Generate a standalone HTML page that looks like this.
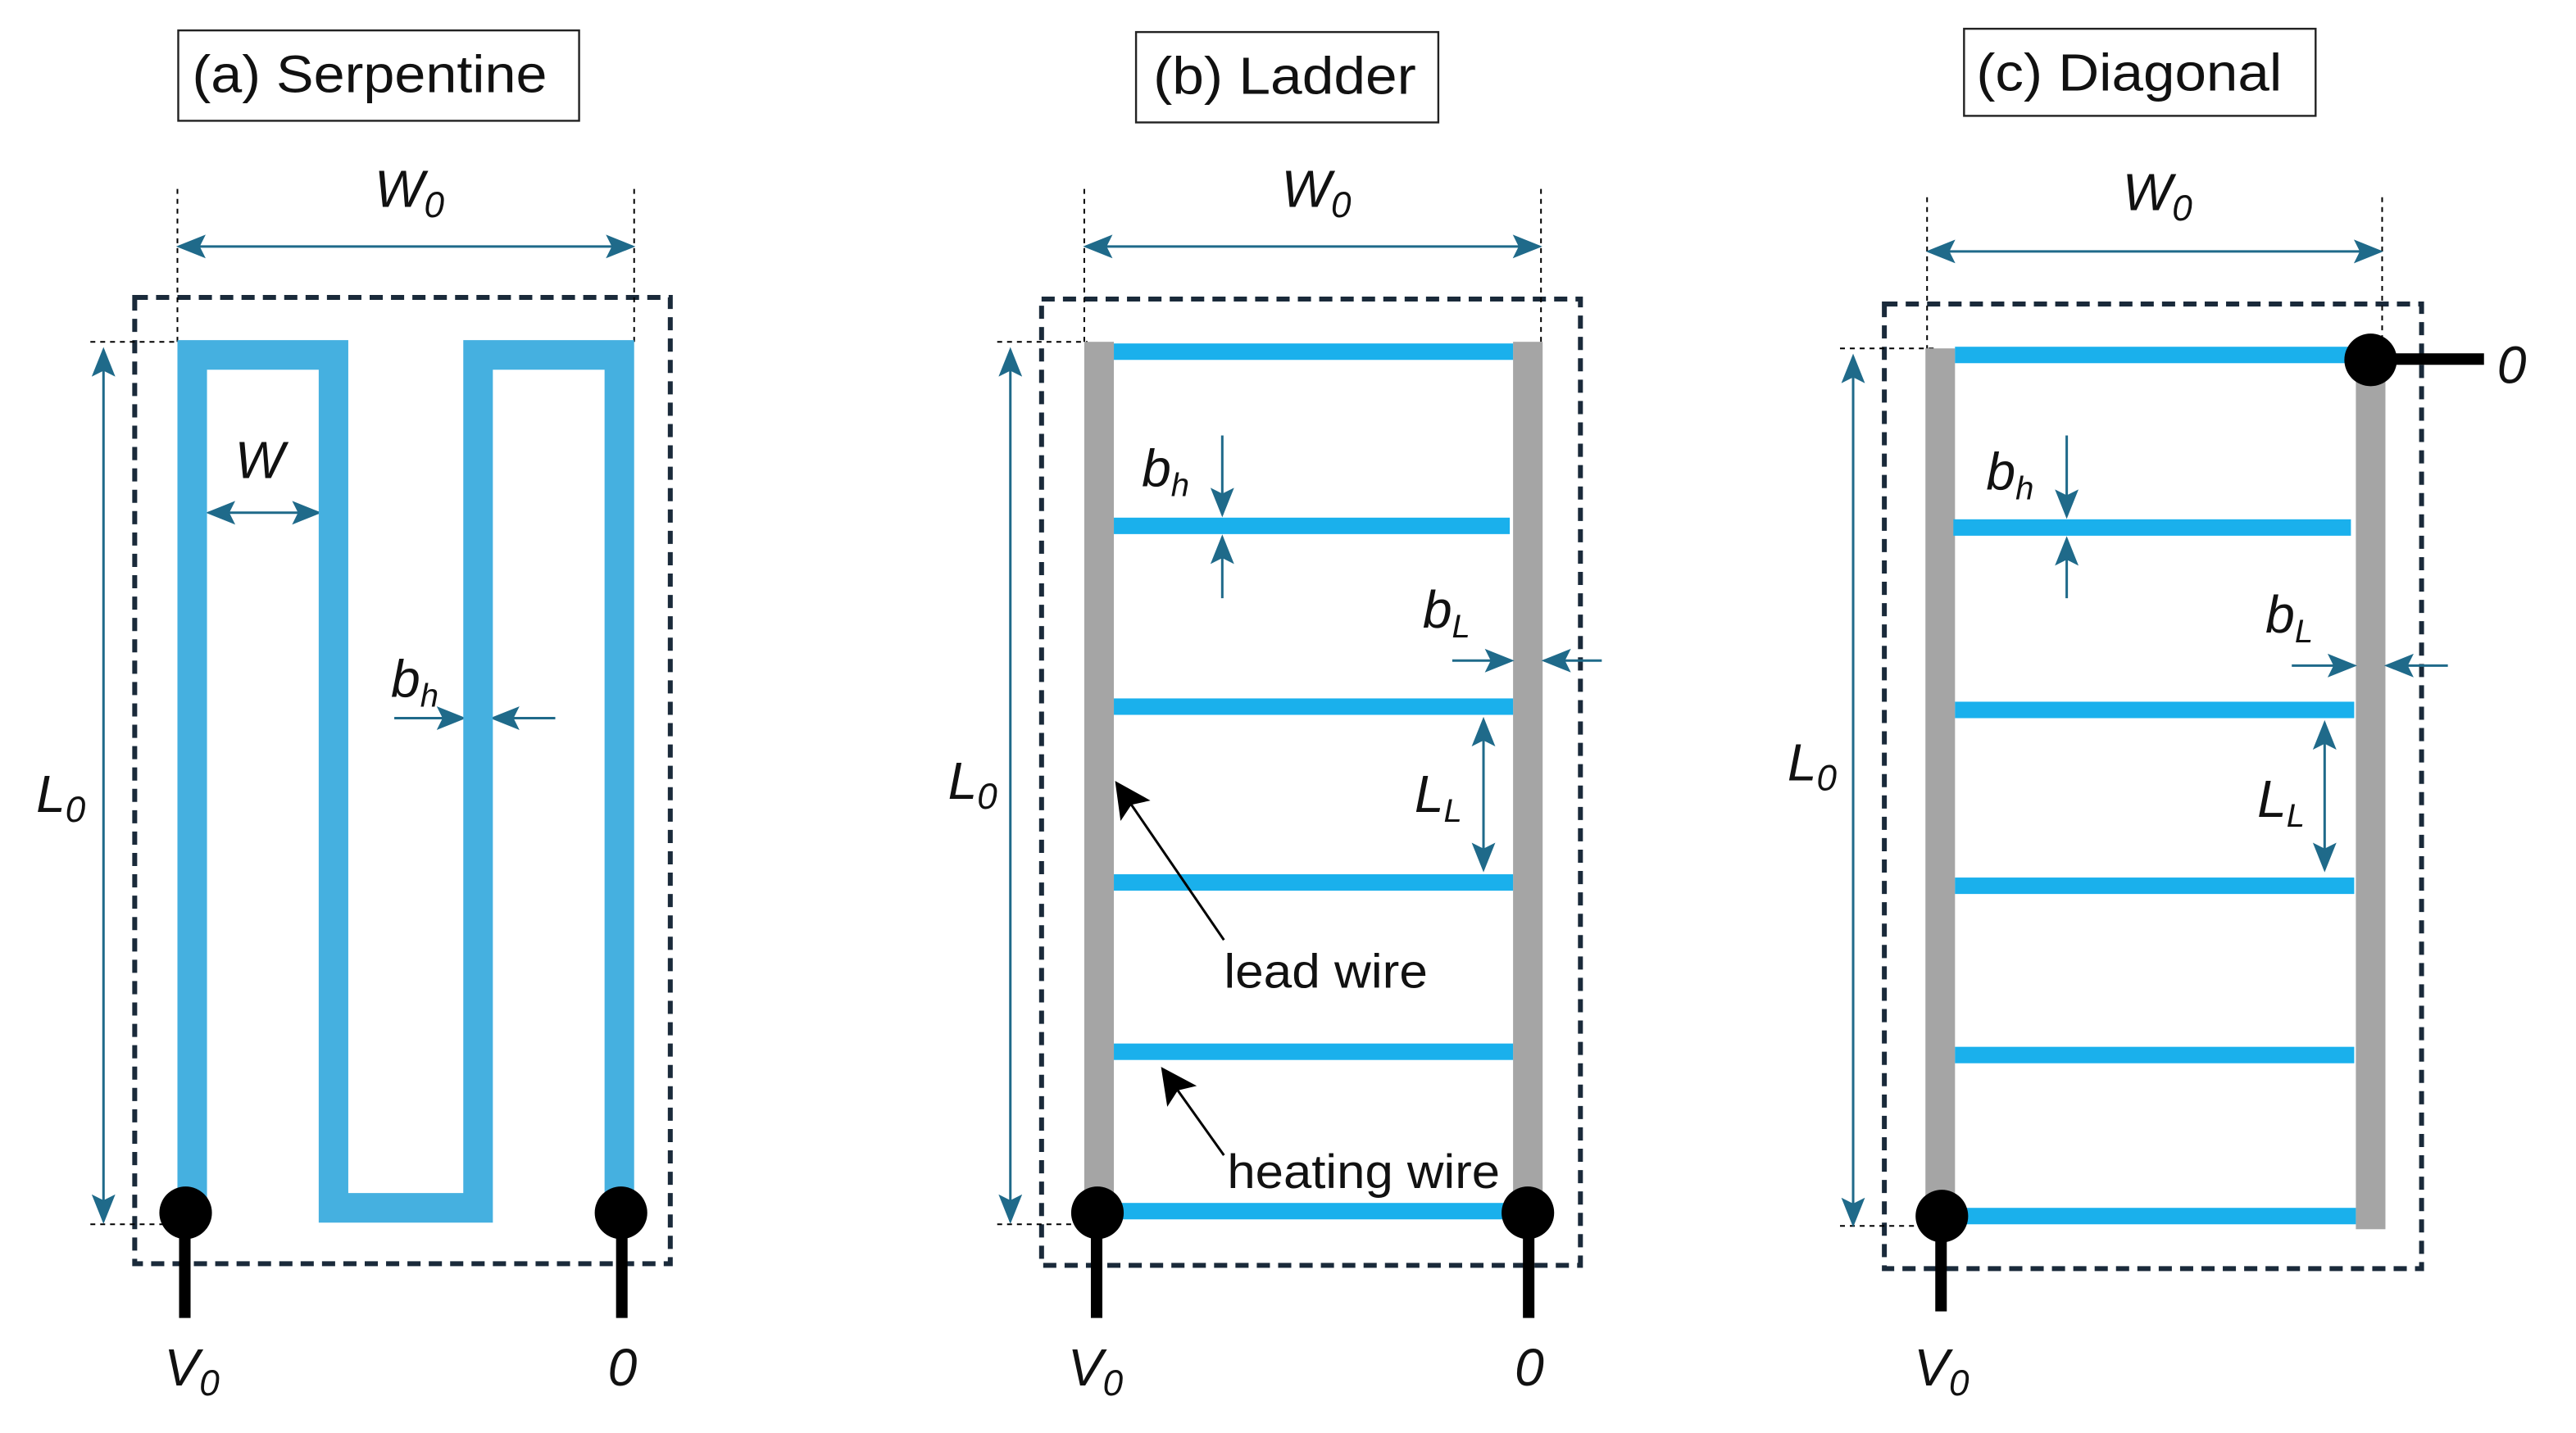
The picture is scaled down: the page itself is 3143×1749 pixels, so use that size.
<!DOCTYPE html>
<html><head><meta charset="utf-8"><style>
html,body{margin:0;padding:0;background:#fff}
svg{display:block}
text{font-family:"Liberation Sans",sans-serif}
.it{font-style:italic;fill:#111}
</style></head><body>
<svg width="3143" height="1749" viewBox="0 0 1568 872" preserveAspectRatio="none" xmlns="http://www.w3.org/2000/svg">
<defs>
<marker id="ar2" viewBox="0 0 10 10" refX="9" refY="5" markerWidth="18" markerHeight="18" orient="auto-start-reverse" markerUnits="userSpaceOnUse"><path d="M0,1 L10,5 L0,9 L2,5z" fill="#1f6a8a"/></marker>
<marker id="ab" viewBox="0 0 10 10" refX="9" refY="5" markerWidth="22" markerHeight="22" orient="auto" markerUnits="userSpaceOnUse"><path d="M0,0 L10,5 L0,10 L2,5z" fill="#000"/></marker>
</defs>

<!-- ===== (a) ===== -->
<rect x="108.5" y="18.5" width="244" height="55" fill="#fff" stroke="#222" stroke-width="1.2"/>
<text x="225" y="56" font-size="32" text-anchor="middle" fill="#111" textLength="216" lengthAdjust="spacingAndGlyphs">(a) Serpentine</text>
<rect x="82" y="181" width="326" height="588" fill="none" stroke="#1a2a3a" stroke-width="3" stroke-dasharray="8,5"/>
<g stroke="#000" stroke-width="1" stroke-dasharray="3,3">
<line x1="108" y1="115" x2="108" y2="210"/><line x1="386" y1="115" x2="386" y2="210"/>
<line x1="55" y1="208" x2="120" y2="208"/><line x1="55" y1="745" x2="110" y2="745"/>
</g>
<g stroke="#1f6a8a" stroke-width="1.5" fill="none">
<line x1="109" y1="150" x2="385" y2="150" marker-start="url(#ar2)" marker-end="url(#ar2)"/>
<line x1="63" y1="213" x2="63" y2="743" marker-start="url(#ar2)" marker-end="url(#ar2)"/>
<line x1="127" y1="312" x2="194" y2="312" marker-start="url(#ar2)" marker-end="url(#ar2)"/>
<line x1="240" y1="437" x2="282" y2="437" marker-end="url(#ar2)"/>
<line x1="338" y1="437" x2="300" y2="437" marker-end="url(#ar2)"/>
</g>
<polyline points="117,738 117,216 203,216 203,735 291,735 291,216 377,216 377,738" fill="none" stroke="#45b0e0" stroke-width="18" stroke-linejoin="miter"/>
<rect x="109" y="738" width="7" height="64" fill="#000"/><circle cx="113" cy="738" r="16" fill="#000"/>
<rect x="375" y="738" width="7" height="64" fill="#000"/><circle cx="378" cy="738" r="16" fill="#000"/>
<text x="228" y="126" font-size="32" class="it">W<tspan font-size="22" dy="6">0</tspan></text>
<text x="22" y="494" font-size="32" class="it">L<tspan font-size="22" dy="6">0</tspan></text>
<text x="143" y="291" font-size="32" class="it">W</text>
<text x="238" y="424" font-size="32" class="it">b<tspan font-size="20" dy="6">h</tspan></text>
<text x="100" y="843" font-size="32" class="it">V<tspan font-size="22" dy="6">0</tspan></text>
<text x="370" y="843" font-size="32" class="it">0</text>

<!-- ===== (b) ===== -->
<rect x="691.5" y="19.5" width="184" height="55" fill="#fff" stroke="#222" stroke-width="1.2"/>
<text x="782" y="57" font-size="32" text-anchor="middle" fill="#111" textLength="160" lengthAdjust="spacingAndGlyphs">(b) Ladder</text>
<rect x="634" y="182" width="328" height="588" fill="none" stroke="#1a2a3a" stroke-width="3" stroke-dasharray="8,5"/>
<g stroke="#000" stroke-width="1" stroke-dasharray="3,3">
<line x1="660" y1="115" x2="660" y2="210"/><line x1="938" y1="115" x2="938" y2="210"/>
<line x1="607" y1="208" x2="662" y2="208"/><line x1="607" y1="745" x2="662" y2="745"/>
</g>
<rect x="660" y="208" width="18" height="530" fill="#a5a5a5"/>
<rect x="921" y="208" width="18" height="532" fill="#a5a5a5"/>
<g fill="#1ab0ec">
<rect x="678" y="209" width="243" height="10"/>
<rect x="678" y="315" width="241" height="10"/>
<rect x="678" y="425" width="243" height="10"/>
<rect x="678" y="532" width="243" height="10"/>
<rect x="678" y="635" width="243" height="10"/>
<rect x="668" y="732" width="262" height="10"/>
</g>
<g stroke="#1f6a8a" stroke-width="1.5" fill="none">
<line x1="661" y1="150" x2="937" y2="150" marker-start="url(#ar2)" marker-end="url(#ar2)"/>
<line x1="615" y1="213" x2="615" y2="743" marker-start="url(#ar2)" marker-end="url(#ar2)"/>
<line x1="744" y1="265" x2="744" y2="313" marker-end="url(#ar2)"/>
<line x1="744" y1="364" x2="744" y2="327" marker-end="url(#ar2)"/>
<line x1="884" y1="402" x2="920" y2="402" marker-end="url(#ar2)"/>
<line x1="975" y1="402" x2="940" y2="402" marker-end="url(#ar2)"/>
<line x1="903" y1="438" x2="903" y2="529" marker-start="url(#ar2)" marker-end="url(#ar2)"/>
</g>
<g stroke="#000" stroke-width="1.5">
<line x1="745" y1="572" x2="680" y2="477" marker-end="url(#ab)"/>
<line x1="745" y1="703" x2="708" y2="651" marker-end="url(#ab)"/>
</g>
<rect x="664" y="738" width="7" height="64" fill="#000"/><circle cx="668" cy="738" r="16" fill="#000"/>
<rect x="927" y="738" width="7" height="64" fill="#000"/><circle cx="930" cy="738" r="16" fill="#000"/>
<text x="780" y="126" font-size="32" class="it">W<tspan font-size="22" dy="6">0</tspan></text>
<text x="577" y="486" font-size="32" class="it">L<tspan font-size="22" dy="6">0</tspan></text>
<text x="695" y="296" font-size="32" class="it">b<tspan font-size="20" dy="6">h</tspan></text>
<text x="866" y="382" font-size="32" class="it">b<tspan font-size="20" dy="6">L</tspan></text>
<text x="861" y="494" font-size="32" class="it">L<tspan font-size="20" dy="6">L</tspan></text>
<text x="745" y="601" font-size="29" fill="#111" textLength="124" lengthAdjust="spacingAndGlyphs">lead wire</text>
<text x="747" y="723" font-size="29" fill="#111" textLength="166" lengthAdjust="spacingAndGlyphs">heating wire</text>
<text x="650" y="843" font-size="32" class="it">V<tspan font-size="22" dy="6">0</tspan></text>
<text x="922" y="843" font-size="32" class="it">0</text>

<!-- ===== (c) ===== -->
<rect x="1195.5" y="17.5" width="214" height="53" fill="#fff" stroke="#222" stroke-width="1.2"/>
<text x="1296" y="55" font-size="32" text-anchor="middle" fill="#111" textLength="186" lengthAdjust="spacingAndGlyphs">(c) Diagonal</text>
<rect x="1147" y="185" width="327" height="587" fill="none" stroke="#1a2a3a" stroke-width="3" stroke-dasharray="8,5"/>
<g stroke="#000" stroke-width="1" stroke-dasharray="3,3">
<line x1="1173" y1="120" x2="1173" y2="215"/><line x1="1450" y1="120" x2="1450" y2="215"/>
<line x1="1120" y1="212" x2="1180" y2="212"/><line x1="1120" y1="746" x2="1175" y2="746"/>
</g>
<rect x="1172" y="212" width="18" height="528" fill="#a5a5a5"/>
<rect x="1434" y="225" width="18" height="523" fill="#a5a5a5"/>
<g fill="#1ab0ec">
<rect x="1190" y="211" width="250" height="10"/>
<rect x="1189" y="316" width="242" height="10"/>
<rect x="1190" y="427" width="243" height="10"/>
<rect x="1190" y="534" width="243" height="10"/>
<rect x="1190" y="637" width="243" height="10"/>
<rect x="1195" y="735" width="239" height="10"/>
</g>
<g stroke="#1f6a8a" stroke-width="1.5" fill="none">
<line x1="1174" y1="153" x2="1449" y2="153" marker-start="url(#ar2)" marker-end="url(#ar2)"/>
<line x1="1128" y1="217" x2="1128" y2="745" marker-start="url(#ar2)" marker-end="url(#ar2)"/>
<line x1="1258" y1="265" x2="1258" y2="314" marker-end="url(#ar2)"/>
<line x1="1258" y1="364" x2="1258" y2="328" marker-end="url(#ar2)"/>
<line x1="1395" y1="405" x2="1433" y2="405" marker-end="url(#ar2)"/>
<line x1="1490" y1="405" x2="1453" y2="405" marker-end="url(#ar2)"/>
<line x1="1415" y1="440" x2="1415" y2="529" marker-start="url(#ar2)" marker-end="url(#ar2)"/>
</g>
<rect x="1443" y="215" width="69" height="7" fill="#000"/><circle cx="1443" cy="219" r="16" fill="#000"/>
<rect x="1178" y="740" width="7" height="58" fill="#000"/><circle cx="1182" cy="740" r="16" fill="#000"/>
<text x="1292" y="128" font-size="32" class="it">W<tspan font-size="22" dy="6">0</tspan></text>
<text x="1088" y="475" font-size="32" class="it">L<tspan font-size="22" dy="6">0</tspan></text>
<text x="1209" y="298" font-size="32" class="it">b<tspan font-size="20" dy="6">h</tspan></text>
<text x="1379" y="385" font-size="32" class="it">b<tspan font-size="20" dy="6">L</tspan></text>
<text x="1374" y="497" font-size="32" class="it">L<tspan font-size="20" dy="6">L</tspan></text>
<text x="1520" y="233" font-size="32" class="it">0</text>
<text x="1165" y="843" font-size="32" class="it">V<tspan font-size="22" dy="6">0</tspan></text>
</svg>
</body></html>
